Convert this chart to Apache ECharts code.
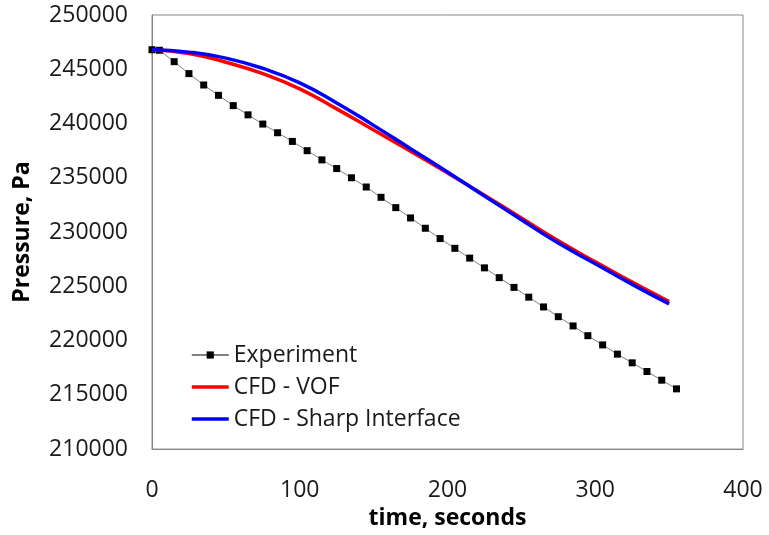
<!DOCTYPE html>
<html>
<head>
<meta charset="utf-8">
<script src="https://cdn.jsdelivr.net/npm/echarts@6/dist/echarts.min.js"></script>
<style>html,body{margin:0;padding:0;background:#fff;}#c{width:769px;height:535px;}</style>
</head>
<body>
<div id="c"></div>
<script>
var seriesNames = ['Experiment', 'CFD - VOF', 'CFD - Sharp Interface'];
var expTime = [0, 5, 15, 25, 35, 45, 55, 65, 75, 85, 95, 105, 115, 125, 135, 145, 155, 165, 175, 185, 195, 205, 215, 225, 235, 245, 255, 265, 275, 285, 295, 305, 315, 325, 335, 345, 355];
var expPressure = [246800, 246750, 245700, 244600, 243550, 242600, 241650, 240800, 239950, 239150, 238350, 237500, 236650, 235850, 235000, 234150, 233200, 232250, 231300, 230350, 229400, 228500, 227600, 226700, 225800, 224900, 224000, 223100, 222200, 221350, 220450, 219600, 218750, 217950, 217150, 216350, 215550];
var cfdTime = [0, 25, 50, 75, 100, 125, 150, 175, 200, 225, 250, 275, 300, 325, 350];
var vofPressure = [246800, 246450, 245650, 244600, 243200, 241350, 239400, 237450, 235450, 233400, 231300, 229200, 227250, 225400, 223600];
var sharpPressure = [246800, 246580, 246030, 245080, 243750, 241900, 239830, 237680, 235530, 233330, 231130, 228980, 227080, 225180, 223380];

function pairs(xs, ys) { return xs.map(function (x, i) { return [x, ys[i]]; }); }

var FONT = '"Open Sans", "Noto Sans", sans-serif';
var chart = echarts.init(document.getElementById('c'), null, { renderer: 'canvas' });
chart.setOption({
  animation: false,
  backgroundColor: '#ffffff',
  grid: { left: 152, right: 26, top: 15, bottom: 79, show: true, borderColor: '#868686', borderWidth: 1, containLabel: false },
  legend: {
    orient: 'vertical', left: 185, top: 338,
    itemWidth: 37, itemHeight: 9, itemGap: 8,
    textStyle: { fontFamily: FONT, fontSize: 23, color: '#1a1a1a', lineHeight: 24 },
    data: [
      { name: seriesNames[0], lineStyle: { color: '#000000', width: 1 } },
      { name: seriesNames[1], itemStyle: { opacity: 0 }, lineStyle: { width: 3.5 } },
      { name: seriesNames[2], itemStyle: { opacity: 0 }, lineStyle: { width: 3.5 } }
    ]
  },
  xAxis: {
    type: 'value', min: 0, max: 400, interval: 100,
    name: 'time, seconds', nameLocation: 'middle', nameGap: 48,
    nameTextStyle: { fontFamily: FONT, fontSize: 23, fontWeight: 'bold', color: '#000' },
    axisLine: { show: true, lineStyle: { color: '#868686', width: 1 } },
    axisTick: { show: false },
    splitLine: { show: false },
    axisLabel: { fontFamily: FONT, fontSize: 23, color: '#1a1a1a', margin: 30 }
  },
  yAxis: {
    type: 'value', min: 210000, max: 250000, interval: 5000,
    name: 'Pressure, Pa', nameLocation: 'middle', nameGap: 118, nameRotate: 90,
    nameTextStyle: { fontFamily: FONT, fontSize: 23, fontWeight: 'bold', color: '#000' },
    axisLine: { show: true, lineStyle: { color: '#868686', width: 1 } },
    axisTick: { show: false },
    splitLine: { show: false },
    axisLabel: { fontFamily: FONT, fontSize: 23, color: '#1a1a1a', margin: 24, formatter: function (v) { return String(v); } }
  },
  series: [
    {
      name: seriesNames[0], type: 'line', data: pairs(expTime, expPressure),
      symbol: 'rect', symbolSize: 7, showSymbol: true,
      lineStyle: { color: '#808080', width: 1 },
      itemStyle: { color: '#000000' },
      z: 3
    },
    {
      name: seriesNames[1], type: 'line', data: pairs(cfdTime, vofPressure),
      symbol: 'none', smooth: 0.5,
      lineStyle: { color: '#ff0000', width: 3.5 },
      itemStyle: { color: '#ff0000' },
      z: 4
    },
    {
      name: seriesNames[2], type: 'line', data: pairs(cfdTime, sharpPressure),
      symbol: 'none', smooth: 0.5,
      lineStyle: { color: '#0000ff', width: 3.5 },
      itemStyle: { color: '#0000ff' },
      z: 5
    }
  ]
});
</script>
</body>
</html>
